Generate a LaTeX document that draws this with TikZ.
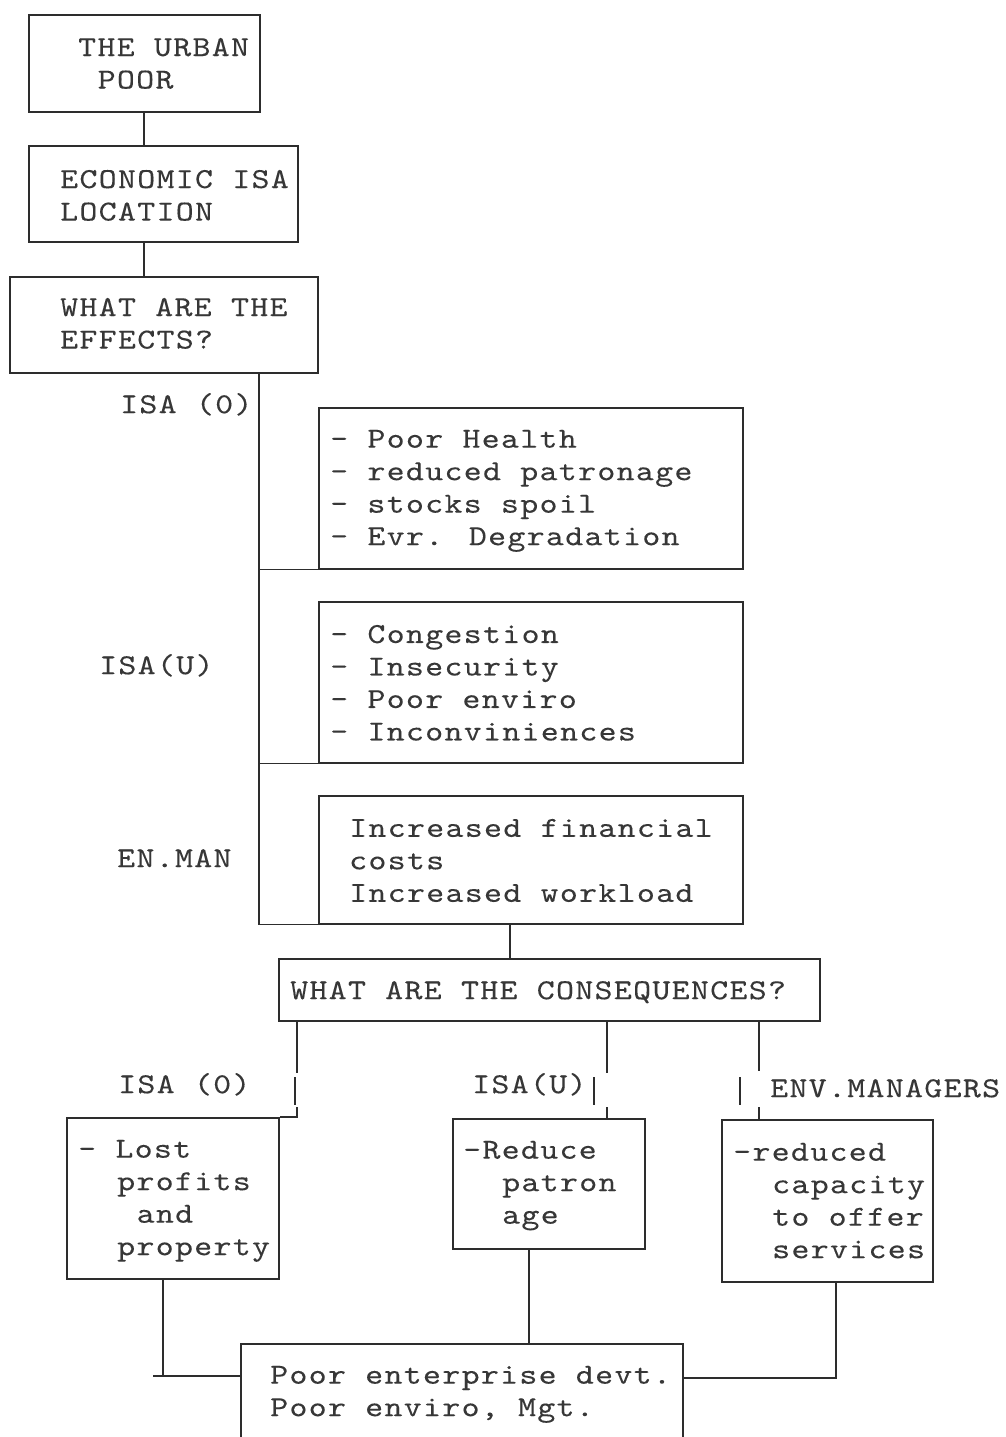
\documentclass[tikz,border=0pt]{standalone}
\usepackage{fontspec}
\newfontfamily\lmtw{lmmono10-regular.otf}[FakeStretch=1.18,LetterSpace=4.5,FakeBold=0.12]
\definecolor{ink}{RGB}{45,45,45}
\definecolor{tink}{RGB}{55,55,55}
\newcommand\twfont{\lmtw\fontsize{29}{32.5}\selectfont}
\newcommand\ind[1]{\hspace*{#1\dimexpr19.5pt\relax}}
\begin{document}
\begin{tikzpicture}[x=1pt,y=-1pt,
  box/.style={draw=ink, line width=1.6pt, inner sep=0pt, anchor=north west},
  conn/.style={draw=ink, line width=1.6pt},
  txt/.style={font=\twfont, text=tink, inner sep=0pt,
    anchor=north west, align=left, yshift=22.75pt, execute at begin node=\strut},
  mtxt/.style={txt, yshift=-5.5pt}]
\useasboundingbox[fill=white] (0,0) rectangle (1006,1437);
% boxes
\node[box, minimum width=231pt, minimum height=97pt] (A) at (28,14) {};
\node[box, minimum width=269pt, minimum height=96pt] (B) at (28,145) {};
\node[box, minimum width=308pt, minimum height=96pt] (C) at (9,276) {};
\node[box, minimum width=424pt, minimum height=161pt] (E1) at (318,407) {};
\node[box, minimum width=424pt, minimum height=161pt] (E2) at (318,601) {};
\node[box, minimum width=424pt, minimum height=128pt] (E3) at (318,795) {};
\node[box, minimum width=541pt, minimum height=62pt] (Q) at (278,958) {};
\node[box, minimum width=212pt, minimum height=161pt] (L) at (66,1117) {};
\node[box, minimum width=192pt, minimum height=130pt] (M) at (452,1118) {};
\node[box, minimum width=211pt, minimum height=162pt] (R) at (721,1119) {};
\node[box, minimum width=442pt, minimum height=140pt] (P) at (240,1343) {};
% texts
\node[mtxt] (tA) at (78,55) {THE URBAN\\\ind{1}POOR};
\node[mtxt] (tB) at (60,187) {ECONOMIC ISA\\LOCATION};
\node[mtxt] (tC) at (60,315) {WHAT ARE THE\\EFFECTS?};
\node[txt] (l1) at (120,413) {ISA (0)};
\node[mtxt] (tE1) at (330,447) {- Poor Health\\- reduced patronage\\- stocks spoil\\- Evr. Degradation};
\node[txt] (l2) at (99,674) {ISA(U)};
\node[mtxt] (tE2) at (330,642) {- Congestion\\- Insecurity\\- Poor enviro\\- Inconviniences};
\node[txt] (l3) at (117,867) {EN.MAN};
\node[mtxt] (tE3) at (349,836) {Increased financial\\costs\\Increased workload};
\node[txt] (tQ) at (290,999) {WHAT ARE THE CONSEQUENCES?};
\node[txt] (l4) at (118,1093) {ISA (0)};
\node[txt] (l5) at (472,1093) {ISA(U)};
\node[txt] (l6) at (770,1097) {ENV.MANAGERS};
\node[mtxt] (tL) at (78,1157) {- Lost\\\ind{2}profits\\\ind{3}and\\\ind{2}property};
\node[mtxt] (tM) at (463,1158) {-Reduce\\\ind{2}patron\\\ind{2}age};
\node[mtxt] (tR) at (733,1160) {-reduced\\\ind{2}capacity\\\ind{2}to offer\\\ind{2}services};
\node[mtxt] (tP) at (270,1383) {Poor enterprise devt.\\Poor enviro, Mgt.};
% coordinates
\coordinate (ab) at (144,0);
\coordinate (sp) at (259,0);
\coordinate (eq) at (510,0);
\coordinate (ql) at (297,0);
\coordinate (qm) at (607,0);
\coordinate (qr) at (759,0);
\coordinate (lp) at (163,1376);
\coordinate (ls) at (153,1376);
\coordinate (mp) at (529,0);
\coordinate (rp) at (836,1378);
% connectors
\draw[conn] (A.south -| ab) -- (B.north -| ab);
\draw[conn] (B.south -| ab) -- (C.north -| ab);
\draw[conn] (C.south -| sp) -- (sp |- E3.south west) -- (E3.south west);
\draw[conn] (sp |- E1.south west) -- (E1.south west);
\draw[conn] (sp |- E2.south west) -- (E2.south west);
\draw[conn] (E3.south -| eq) -- (Q.north -| eq);
% consequences branches
\draw[conn] (Q.south -| ql) -- (297,1073);
\draw[conn] (295,1077) -- (295,1105);
\draw[conn] (297,1107) -- (ql |- L.north) -- (L.north east);
\draw[conn] (Q.south -| qm) -- (607,1073);
\draw[conn] (594,1077) -- (594,1105);
\draw[conn] (607,1107) -- (M.north -| qm);
\draw[conn] (Q.south -| qr) -- (759,1071);
\draw[conn] (740,1077) -- (740,1105);
\draw[conn] (759,1107) -- (R.north -| qr);
% to bottom box
\draw[conn] (L.south -| lp) -- (lp);
\draw[conn] (ls) -- (P.west |- lp);
\draw[conn] (M.south -| mp) -- (P.north -| mp);
\draw[conn] (R.south -| rp) -- (rp) -- (P.east |- rp);
\end{tikzpicture}
\end{document}
